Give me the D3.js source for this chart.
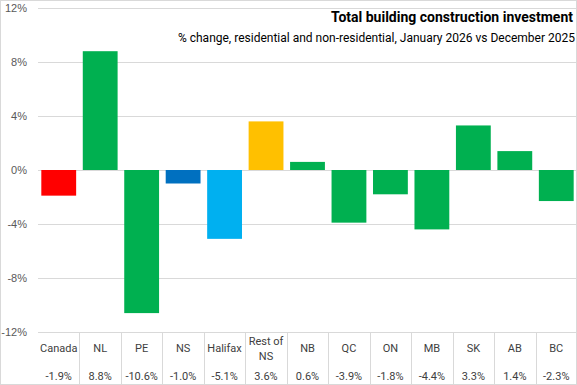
<!DOCTYPE html>
<html>
<head>
<meta charset="utf-8">
<script src="https://cdn.jsdelivr.net/npm/d3@7"></script>
<style>
  body { margin: 0; background: #fff; }
  svg { display: block; font-family: "Liberation Sans Narrow", "Roboto", "Liberation Sans", sans-serif; }
</style>
</head>
<body>
<div id="chart"></div>
<script>
// datos
const categories = ['Canada', 'NL', 'PE', 'NS', 'Halifax', 'Rest of NS', 'NB', 'QC', 'ON', 'MB', 'SK', 'AB', 'BC'];
const values = [-1.9, 8.8, -10.6, -1.0, -5.1, 3.6, 0.6, -3.9, -1.8, -4.4, 3.3, 1.4, -2.3];
const valueLabels = ['-1.9%', '8.8%', '-10.6%', '-1.0%', '-5.1%', '3.6%', '0.6%', '-3.9%', '-1.8%', '-4.4%', '3.3%', '1.4%', '-2.3%'];
const barColors = ['#FF0000', '#00B050', '#00B050', '#0070C0', '#00B0F0', '#FFC000', '#00B050', '#00B050', '#00B050', '#00B050', '#00B050', '#00B050', '#00B050'];
const yTicks = [-12, -8, -4, 0, 4, 8, 12];

const W = 577, H = 385;
const margin = {top: 8, right: 0, bottom: 53, left: 38};

const svg = d3.select('#chart').append('svg')
    .attr('width', W)
    .attr('height', H);

// borde del grafico
svg.append('rect')
    .attr('x', 0.5).attr('y', 0.5)
    .attr('width', W - 1).attr('height', H - 1)
    .attr('fill', 'none')
    .attr('stroke', '#d9d9d9');

let x = d3.scaleBand()
    .domain(categories)
    .range([margin.left, W - margin.right])
    .paddingInner(0.16)
    .paddingOuter(0.08);

let y = d3.scaleLinear()
    .domain([-12, 12])
    .range([H - margin.bottom, margin.top]);

// rejilla
svg.append('g')
    .selectAll('line')
    .data(yTicks)
    .enter()
    .append('line')
        .attr('x1', margin.left)
        .attr('x2', W - margin.right)
        .attr('y1', d => Math.round(y(d)) + 0.5)
        .attr('y2', d => Math.round(y(d)) + 0.5)
        .attr('stroke', '#d9d9d9');

// eje y
let yAxis = svg.append('g')
    .attr('transform', 'translate(' + (margin.left - 11) + ',0)')
    .call(d3.axisLeft(y).tickValues(yTicks).tickSize(0).tickFormat(d => d + '%'));
yAxis.select('.domain').remove();
yAxis.selectAll('text')
    .attr('x', 0)
    .attr('fill', '#595959')
    .style('font-size', '11px');

// barras
svg.append('g')
    .selectAll('rect')
    .data(values)
    .enter()
    .append('rect')
        .attr('x', (d, i) => x(categories[i]))
        .attr('width', x.bandwidth())
        .attr('y', d => y(Math.max(0, d)))
        .attr('height', d => Math.abs(y(d) - y(0)))
        .attr('fill', (d, i) => barColors[i]);

// tabla de datos
const step = x.step();
const tableTop = y(-12);
let table = svg.append('g');
categories.forEach(function(c, i) {
    let left = margin.left + i * step;
    if (i > 0) {
        table.append('line')
            .attr('x1', Math.round(left) + 0.5).attr('x2', Math.round(left) + 0.5)
            .attr('y1', tableTop).attr('y2', H)
            .attr('stroke', '#d9d9d9');
    }
    let cx = left + step / 2;
    let lines = c == 'Rest of NS' ? ['Rest of', 'NS'] : [c];
    lines.forEach(function(l, j) {
        table.append('text')
            .attr('x', cx)
            .attr('y', lines.length > 1 ? 345 + j * 15 : 352)
            .attr('text-anchor', 'middle')
            .attr('fill', '#404040')
            .style('font-size', '11px')
            .text(l);
    });
    table.append('text')
        .attr('x', cx)
        .attr('y', 380)
        .attr('text-anchor', 'middle')
        .attr('fill', '#404040')
        .style('font-size', '11px')
        .text(valueLabels[i]);
});

// titulos
svg.append('text')
    .attr('x', W - 4).attr('y', 22)
    .attr('text-anchor', 'end')
    .attr('fill', '#000')
    .style('font-size', '14px')
    .style('font-weight', 'bold')
    .text('Total building construction investment');

svg.append('text')
    .attr('x', W - 2).attr('y', 42)
    .attr('text-anchor', 'end')
    .attr('fill', '#000')
    .style('font-size', '12px')
    .text('% change, residential and non-residential, January 2026 vs December 2025');
</script>
</body>
</html>
